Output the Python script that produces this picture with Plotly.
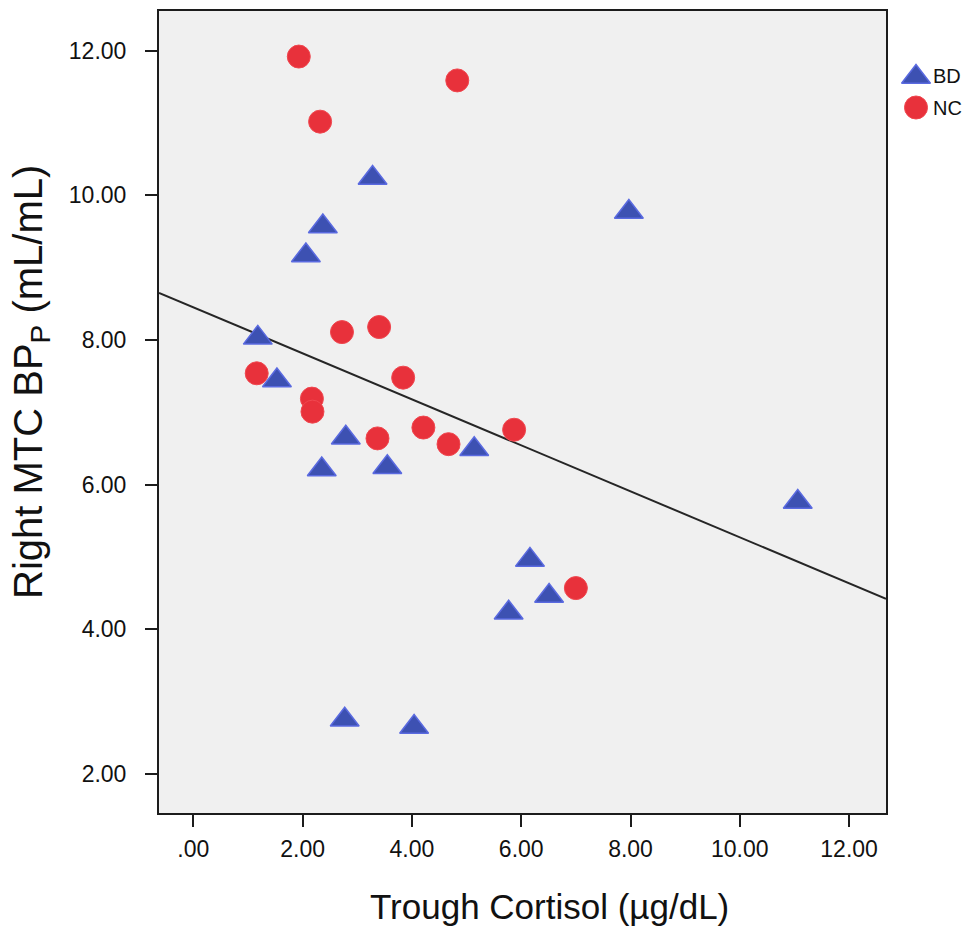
import numpy as np
import plotly.graph_objects as go

# Trough cortisol (µg/dL) and right MTC BP_P (mL/mL) per group
bd_cortisol = [1.18, 1.53, 2.06, 2.37, 3.28, 7.97, 2.79, 2.35, 3.55, 5.14, 11.06, 6.16, 5.77, 6.51, 2.77, 4.04]
bd_bpp = [8.03, 7.44, 9.17, 9.57, 10.24, 9.77, 6.65, 6.21, 6.24, 6.49, 5.76, 4.96, 4.23, 4.46, 2.75, 2.65]

nc_cortisol = [1.93, 2.32, 4.83, 2.72, 3.40, 1.16, 3.84, 2.17, 2.18, 4.21, 3.37, 4.67, 5.87, 7.00]
nc_bpp = [11.92, 11.02, 11.59, 8.11, 8.18, 7.54, 7.48, 7.19, 7.01, 6.79, 6.64, 6.56, 6.76, 4.57]

group_names = ["BD", "NC"]
x_ticks = [0, 2, 4, 6, 8, 10, 12]
x_tick_labels = [".00", "2.00", "4.00", "6.00", "8.00", "10.00", "12.00"]
y_ticks = [2, 4, 6, 8, 10, 12]
y_tick_labels = ["2.00", "4.00", "6.00", "8.00", "10.00", "12.00"]
x_range = [-0.628, 12.675]
y_range = [1.46, 12.55]

# Total-sample least-squares fit line across the full x range
all_x = np.array(bd_cortisol + nc_cortisol)
all_y = np.array(bd_bpp + nc_bpp)
slope, intercept = np.polyfit(all_x, all_y, 1)
fit_x = np.array(x_range)
fit_y = intercept + slope * fit_x

BLUE_FILL = "#3d51b2"
BLUE_EDGE = "#5a6ae0"
RED_FILL = "#e8313b"
RED_EDGE = "#f0474f"
FRAME = "#1c1c1c"
TEXT = "#111111"

W, H = 971, 929
ML, MR, MT, MB = 159, 0, 11, 116
plot_right_px = 886
paper_w = W - ML - MR
paper_h = H - MT - MB
main_dom = (plot_right_px - ML) / paper_w


def px_to_paper(px, py):
    return (px - ML) / paper_w, (H - MB - py) / paper_h


tri_marker = dict(symbol="triangle-up", size=25, color=BLUE_FILL,
                  line=dict(color=BLUE_EDGE, width=1.5))
dot_marker = dict(symbol="circle", size=23, color=RED_FILL,
                  line=dict(color=RED_EDGE, width=1))

fig = go.Figure()

fig.add_trace(go.Scatter(
    x=fit_x, y=fit_y, mode="lines",
    line=dict(color="#262626", width=2),
    showlegend=False, hoverinfo="skip",
))
fig.add_trace(go.Scatter(
    x=bd_cortisol, y=bd_bpp, mode="markers", name=group_names[0],
    marker=tri_marker, showlegend=False,
))
fig.add_trace(go.Scatter(
    x=nc_cortisol, y=nc_bpp, mode="markers", name=group_names[1],
    marker=dot_marker, showlegend=False,
))

# Legend drawn on a pixel-scaled helper axis in the right margin
fig.add_trace(go.Scatter(
    x=[916], y=[77], mode="markers", xaxis="x2", yaxis="y2",
    marker=tri_marker, showlegend=False, hoverinfo="skip",
))
fig.add_trace(go.Scatter(
    x=[916], y=[107.5], mode="markers", xaxis="x2", yaxis="y2",
    marker=dot_marker, showlegend=False, hoverinfo="skip",
))
for label, ypos in zip(group_names, [76, 108]):
    fig.add_annotation(
        x=931, y=ypos, xref="x2", yref="y2", text=label, showarrow=False,
        xanchor="left", yanchor="middle",
        font=dict(family="Liberation Sans", size=20, color=TEXT),
    )

# Grey panel behind the main plot only
fig.add_shape(
    type="rect", xref="x domain", yref="y domain", x0=0, x1=1, y0=0, y1=1,
    fillcolor="#f0f0f0", line=dict(width=0), layer="below",
)

axis_common = dict(
    showgrid=False, zeroline=False,
    showline=True, linecolor=FRAME, linewidth=2, mirror=True,
    ticks="outside", ticklen=12, tickwidth=2, tickcolor=FRAME,
    tickfont=dict(family="Liberation Sans", size=23, color=TEXT),
)

fig.update_layout(
    width=W, height=H,
    margin=dict(l=ML, r=MR, t=MT, b=MB, pad=0),
    paper_bgcolor="white",
    plot_bgcolor="white",
    xaxis=dict(
        range=x_range, domain=[0, main_dom],
        tickvals=x_ticks, ticktext=x_tick_labels,
        ticklabelstandoff=2, **axis_common,
    ),
    yaxis=dict(
        range=y_range,
        tickvals=y_ticks, ticktext=y_tick_labels,
        ticklabelstandoff=14, **axis_common,
    ),
    xaxis2=dict(domain=[main_dom, 1], range=[plot_right_px, W], visible=False,
                anchor="y2", fixedrange=True),
    yaxis2=dict(domain=[0, 1], range=[H - MB, MT], visible=False,
                anchor="x2", fixedrange=True),
    showlegend=False,
)

# Axis titles
tx, ty = px_to_paper(549, 906)
fig.add_annotation(
    x=tx, y=ty, xref="paper", yref="paper", text="Trough Cortisol (µg/dL)",
    showarrow=False, xanchor="center", yanchor="middle",
    font=dict(family="Liberation Sans", size=35, color=TEXT),
)
yx, yy = px_to_paper(31, 382)
fig.add_annotation(
    x=yx, y=yy, xref="paper", yref="paper",
    text="Right MTC BP<sub>P</sub> (mL/mL)", textangle=-90,
    showarrow=False, xanchor="center", yanchor="middle",
    font=dict(family="Liberation Sans", size=40, color=TEXT),
)

fig.write_html("out.html")
